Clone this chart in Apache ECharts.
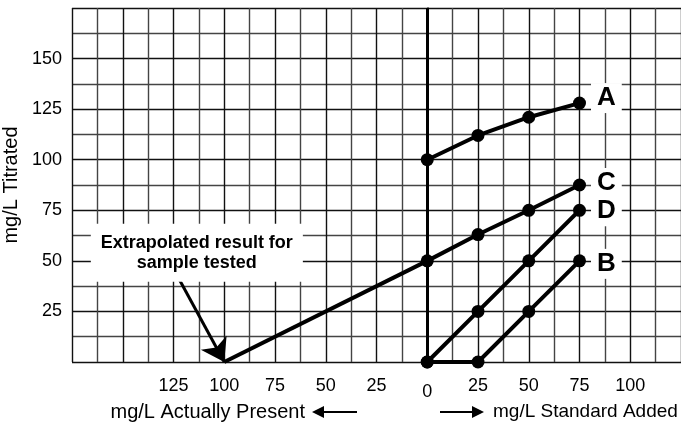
<!DOCTYPE html>
<html>
<head>
<meta charset="utf-8">
<title>Standard addition</title>
<script src="https://cdn.jsdelivr.net/npm/echarts@6/dist/echarts.min.js"></script>
<style>
  html, body { margin: 0; padding: 0; background: #fff; }
  #chart { width: 681px; height: 423px; }
</style>
</head>
<body>
<div id="chart"></div>
<script>
    // standard added (mg/L)
    var added = [0, 25, 50, 75];
    var lineA = [100, 112, 121, 128];
    var lineC = [50, 63, 75, 87.5];
    var lineD = [0, 25, 50, 75];
    var lineB = [0, 0, 25, 50];
    // extrapolation of C back to the x axis
    var extraX = [-100, 0];
    var extraY = [0, 50];
    var xLabels = [-125, -100, -75, -50, -25, 0, 25, 50, 75, 100];
    var yLabels = [25, 50, 75, 100, 125, 150];

    var font = 'Liberation Sans, Arial, sans-serif';

    function pairs(xs, ys) {
        return xs.map(function (x, i) { return [x, ys[i]]; });
    }

    function letter(name, off) {
        return {
            show: true, position: 'right', distance: 5, offset: off || [0, 0],
            formatter: name, color: '#000', fontFamily: font,
            fontSize: 26, fontWeight: 'bold',
            backgroundColor: '#fff', padding: [2, 6]
        };
    }

    function line(name, ys, lbl, off) {
        var d = pairs(added, ys);
        d[d.length - 1] = { value: d[d.length - 1], label: letter(lbl, off) };
        return {
            name: name, type: 'line', data: d, clip: false,
            symbol: 'circle', symbolSize: 13,
            itemStyle: { color: '#000' },
            lineStyle: { color: '#000', width: 4 },
            z: 5
        };
    }

    var chart = echarts.init(document.getElementById('chart'));
    var option = {
        animation: false,
        grid: { left: 72, right: 0, top: 8, bottom: 61, outerBoundsMode: 'none', containLabel: false },
        xAxis: {
            type: 'value', min: -175, max: 125, interval: 12.5,
            axisLine: { show: false },
            axisTick: { show: false },
            splitLine: { lineStyle: { color: ['#111', '#444'], width: 1.4 } },
            axisLabel: {
                margin: 15, fontSize: 18, color: '#000', fontFamily: font,
                showMinLabel: true, showMaxLabel: true,
                formatter: function (v) {
                    if (xLabels.indexOf(v) < 0) return '';
                    if (v === 0) return '{z|0}';
                    return String(Math.abs(v));
                },
                rich: { z: { fontSize: 18, fontFamily: font, color: '#000', padding: [6, 0, 0, 0] } }
            }
        },
        yAxis: {
            type: 'value', min: 0, max: 175, interval: 12.5,
            name: 'mg/L Titrated', nameLocation: 'middle', nameGap: 45,
            nameTextStyle: { fontSize: 20, color: '#000', fontFamily: font },
            axisLine: { show: true, lineStyle: { color: '#000', width: 1.5 } },
            axisTick: { show: false },
            splitLine: { lineStyle: { color: ['#111', '#444'], width: 1.4 } },
            axisLabel: {
                margin: 10, fontSize: 18, color: '#000', fontFamily: font,
                formatter: function (v) { return yLabels.indexOf(v) < 0 ? '' : String(v); }
            }
        },
        series: [
            {
                name: 'extrapolation', type: 'line', data: pairs(extraX, extraY),
                showSymbol: false, clip: false,
                lineStyle: { color: '#000', width: 4 }, z: 4,
                markLine: {
                    silent: true, animation: false,
                    symbol: ['none', 'none'],
                    label: { show: false },
                    data: [
                        { xAxis: 0, lineStyle: { color: '#000', width: 3, type: 'solid' } },
                        [
                            { coord: [-122, 40.5], symbol: 'none' },
                            { coord: [-100, 0], symbol: 'arrow', symbolSize: 22 }
                        ]
                    ],
                    lineStyle: { color: '#000', width: 3, type: 'solid' }
                },
                markPoint: {
                    silent: true, symbol: 'rect', symbolSize: 0,
                    data: [{
                        coord: [-113.5, 54],
                        label: {
                            show: true, position: 'inside',
                            formatter: 'Extrapolated result for\nsample tested',
                            fontFamily: font, fontSize: 18, fontWeight: 'bold',
                            color: '#000', lineHeight: 20, align: 'center',
                            backgroundColor: '#fff', padding: [10, 10, 8, 10]
                        }
                    }]
                }
            },
            line('A', lineA, 'A', [0, -5]),
            line('C', lineC, 'C', [0, -2]),
            line('D', lineD, 'D', [0, 1]),
            line('B', lineB, 'B', [0, 3])
        ],
        graphic: [
            { type: 'text', x: 305, y: 412, style: { text: 'mg/L Actually Present', fontSize: 20, fontFamily: font, fill: '#000', align: 'right', verticalAlign: 'middle' } },
            { type: 'line', shape: { x1: 357, y1: 412, x2: 320, y2: 412 }, style: { stroke: '#000', lineWidth: 2 } },
            { type: 'polygon', shape: { points: [[312, 412], [324, 406], [324, 418]] }, style: { fill: '#000' } },
            { type: 'line', shape: { x1: 440, y1: 412, x2: 476, y2: 412 }, style: { stroke: '#000', lineWidth: 2 } },
            { type: 'polygon', shape: { points: [[484, 412], [472, 406], [472, 418]] }, style: { fill: '#000' } },
            { type: 'text', x: 493, y: 412, style: { text: 'mg/L Standard Added', fontSize: 19, fontFamily: font, fill: '#000', align: 'left', verticalAlign: 'middle' } }
        ]
    };
    chart.setOption(option);
</script>
</body>
</html>
